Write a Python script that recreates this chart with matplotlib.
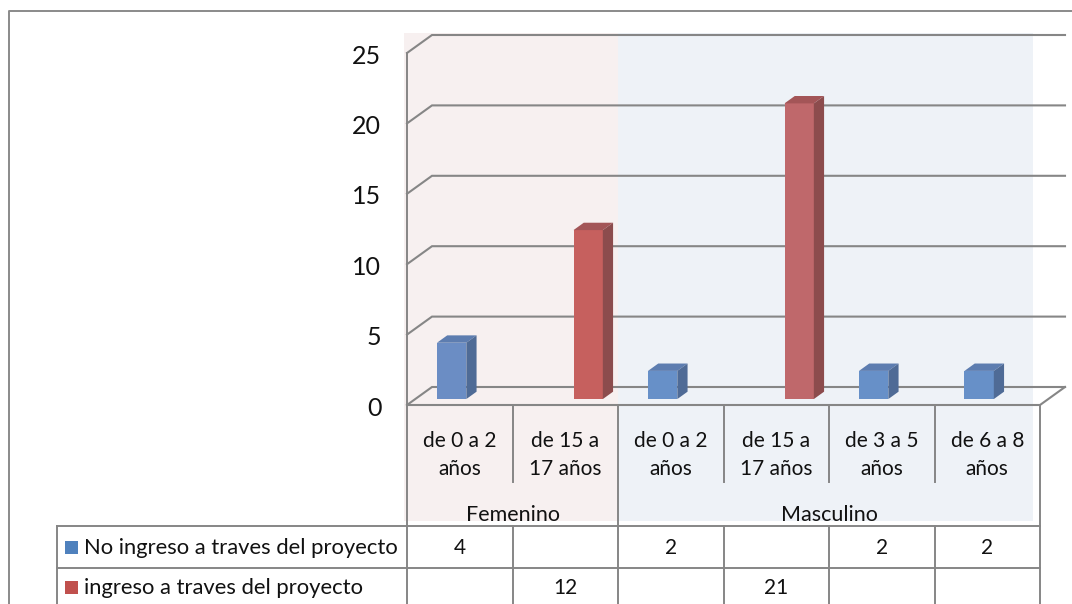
import matplotlib
matplotlib.use("Agg")
import matplotlib.pyplot as plt
from matplotlib.patches import Polygon, Rectangle
from matplotlib.transforms import Affine2D

# ---------------- data ----------------
groups = ["Femenino", "Masculino"]
group_centers = [1.0, 4.0]
categories = ["de 0 a 2\naños", "de 15 a\n17 años", "de 0 a 2\naños",
              "de 15 a\n17 años", "de 3 a 5\naños", "de 6 a 8\naños"]
category_group = [0, 0, 1, 1, 1, 1]
series_names = ["No ingreso a traves del proyecto", "ingreso a traves del proyecto"]
no_ingreso = [4, None, 2, None, 2, 2]
ingreso = [None, 12, None, 21, None, None]
yticks = [0, 5, 10, 15, 20, 25]

series = [no_ingreso, ingreso]

# ---------------- style ----------------
FONT = ["Lato", "DejaVu Sans"]
plt.rcParams["font.family"] = FONT
GRID = "#868686"
TXT = "#111111"
legend_colors = ["#4F81BD", "#C0504D"]
front_colors = [["#6B8DC4", "#6790C8"], ["#C6605E", "#BF686B"]]  # [series][group]
side_colors = ["#4F6B96", "#8C4C4D"]
top_colors = ["#5D7DB0", "#A35557"]
bg_colors = ["#F7F0F0", "#EEF2F7"]

W, H = 1072, 604
fig = plt.figure(figsize=(W / 100, H / 100), dpi=100)
pix = Affine2D().scale(1 / W, -1 / H).translate(0, 1) + fig.transFigure

x0p, x1p = 407, 1040   # front plane, pixels
y0p, y1p = 405, 53
ax = fig.add_axes([x0p / W, 1 - y0p / H, (x1p - x0p) / W, (y0p - y1p) / H])
ax.set_xlim(0, len(categories))
ax.set_ylim(0, yticks[-1])
for s in ax.spines.values():
    s.set_visible(False)
ax.patch.set_visible(False)

ppx = (x1p - x0p) / len(categories)
ppy = (y0p - y1p) / yticks[-1]
DX = 25 / ppx
DY = 18 / ppy


def yaf(py):
    return (y0p - py) / (y0p - y1p)


xtr = ax.get_xaxis_transform()

# background bands
bands = [(-3 / ppx, 2.0), (2.0, (1033 - x0p) / ppx)]
for g, (a, b) in enumerate(bands):
    ax.add_patch(Rectangle((a, yaf(521)), b - a, yaf(33) - yaf(521), transform=xtr,
                           facecolor=bg_colors[g], edgecolor="none", zorder=0, clip_on=False))

# gridlines (3D walls)
n = len(categories)
GLW = 1.5
for v in yticks:
    ax.plot([0, DX, n + DX], [v, v + DY, v + DY], color=GRID, lw=GLW, clip_on=False, zorder=1,
            solid_joinstyle="miter")
ax.plot([0, n, n + DX], [0, 0, DY], color=GRID, lw=GLW, clip_on=False, zorder=1)

# bars
bw = 0.278
offs = [0.206, 0.5]
f1, f2 = 0.33, 0.74
for s, vals in enumerate(series):
    for i, v in enumerate(vals):
        if v is None:
            continue
        g = category_group[i]
        left = i + offs[s]
        right = left + bw
        ax.bar(left + f1 * DX, v, width=bw, bottom=f1 * DY, align="edge",
               color=front_colors[s][g], edgecolor="none", zorder=3, clip_on=False)
        top = [(left + f1 * DX, v + f1 * DY), (right + f1 * DX, v + f1 * DY),
               (right + f2 * DX, v + f2 * DY), (left + f2 * DX, v + f2 * DY)]
        side = [(right + f1 * DX, f1 * DY), (right + f2 * DX, f2 * DY),
                (right + f2 * DX, v + f2 * DY), (right + f1 * DX, v + f1 * DY)]
        ax.add_patch(Polygon(top, closed=True, facecolor=top_colors[s], edgecolor="none",
                             zorder=3, clip_on=False))
        ax.add_patch(Polygon(side, closed=True, facecolor=side_colors[s], edgecolor="none",
                             zorder=3, clip_on=False))

# y axis labels
ax.set_yticks(yticks)
ax.set_yticklabels([str(t) for t in yticks], fontsize=18, color=TXT, va="center")
ax.tick_params(axis="y", length=0, pad=18.5)
for lbl in ax.get_yticklabels():
    lbl.set_transform(lbl.get_transform() + Affine2D().translate(0, -3))

# x axis labels
ax.set_xticks([i + 0.5 for i in range(n)])
ax.set_xticklabels(categories, fontsize=15, linespacing=1.45, color=TXT)
ax.tick_params(axis="x", length=0, pad=19)

# group labels
for gname, gc in zip(groups, group_centers):
    ax.text(gc, yaf(515), gname, transform=xtr, ha="center", va="center", fontsize=15.5,
            color=TXT)

# table / header lines
LW = 1.4
for i in range(n + 1):
    if i == 0:
        ax.plot([0, 0], [1, yaf(610)], transform=xtr, color=GRID, lw=LW, clip_on=False, zorder=2)
    elif i in (2, n):
        ax.plot([i, i], [0, yaf(610)], transform=xtr, color=GRID, lw=LW, clip_on=False, zorder=2)
    else:
        ax.plot([i, i], [0, yaf(482)], transform=xtr, color=GRID, lw=LW, clip_on=False, zorder=2)
        ax.plot([i, i], [yaf(526), yaf(610)], transform=xtr, color=GRID, lw=LW, clip_on=False, zorder=2)

for py in (526, 568):
    fig.add_artist(plt.Line2D([57, x1p], [py, py], transform=pix, color=GRID, lw=LW))
fig.add_artist(plt.Line2D([57, 57], [526, 610], transform=pix, color=GRID, lw=LW))

# chart border
fig.add_artist(plt.Line2D([9, 9, 1080], [610, 11, 11], transform=pix, color="#8A8A8A", lw=1.4))

# table rows
row_y = [548, 588]
for r, (name, vals) in enumerate(zip(series_names, series)):
    fig.add_artist(Rectangle((65, row_y[r] - 7), 13, 13, transform=pix,
                             facecolor=legend_colors[r], edgecolor="none"))
    fig.text(84 / W, 1 - row_y[r] / H, name, ha="left", va="center", fontsize=15.8,
             color=TXT)
    for i, v in enumerate(vals):
        if v is None:
            continue
        ax.text(i + 0.5, yaf(row_y[r]), str(v), transform=xtr, ha="center", va="center",
                fontsize=15, color=TXT)

fig.savefig("out.png", dpi=100)
